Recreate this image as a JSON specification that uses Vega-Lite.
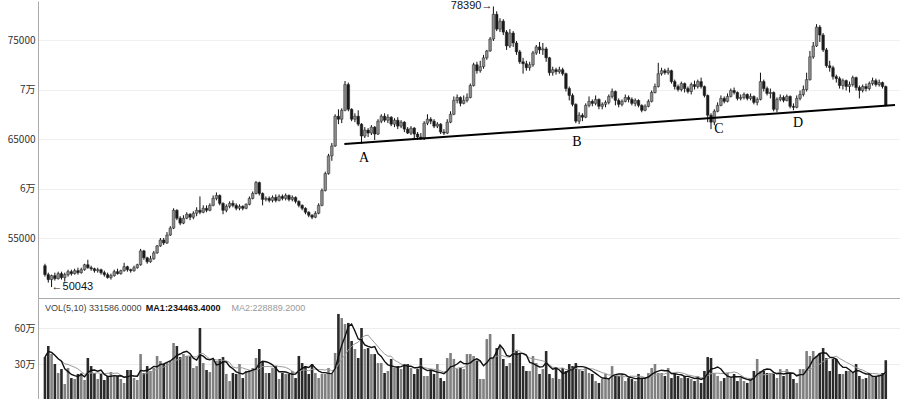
{
"$schema": "https://vega.github.io/schema/vega-lite/v6.json",
"padding": 0,
"spacing": 0,
"background": "white",
"config": {"view": {"stroke": null}, "axis": {"labelFont": "Noto Sans CJK SC", "labelFontSize": 10, "labelColor": "#333333"}},
"datasets": {"k": [
{"i":0,"o":52200,"h":52400,"l":51100,"c":51300,"v":358000},
{"i":1,"o":51300,"h":51500,"l":50500,"c":50800,"v":450000},
{"i":2,"o":50800,"h":51300,"l":50043,"c":51200,"v":383000},
{"i":3,"o":51200,"h":51500,"l":50700,"c":50900,"v":300000},
{"i":4,"o":50900,"h":51600,"l":50800,"c":51400,"v":225000},
{"i":5,"o":51400,"h":51600,"l":50800,"c":51000,"v":258000},
{"i":6,"o":51000,"h":51500,"l":50600,"c":51300,"v":133000},
{"i":7,"o":51300,"h":51800,"l":51100,"c":51600,"v":267000},
{"i":8,"o":51600,"h":51800,"l":51200,"c":51400,"v":183000},
{"i":9,"o":51400,"h":51900,"l":51300,"c":51700,"v":175000},
{"i":10,"o":51700,"h":52000,"l":51300,"c":51500,"v":217000},
{"i":11,"o":51500,"h":52000,"l":51400,"c":51800,"v":225000},
{"i":12,"o":51800,"h":52400,"l":51700,"c":52300,"v":167000},
{"i":13,"o":52300,"h":52800,"l":51900,"c":52000,"v":350000},
{"i":14,"o":52000,"h":52200,"l":51700,"c":51900,"v":283000},
{"i":15,"o":51900,"h":52000,"l":51500,"c":51700,"v":225000},
{"i":16,"o":51700,"h":52000,"l":51500,"c":51800,"v":175000},
{"i":17,"o":51800,"h":51900,"l":51300,"c":51500,"v":217000},
{"i":18,"o":51500,"h":51700,"l":51100,"c":51300,"v":167000},
{"i":19,"o":51300,"h":51500,"l":50900,"c":51000,"v":200000},
{"i":20,"o":51000,"h":51400,"l":50800,"c":51200,"v":233000},
{"i":21,"o":51200,"h":51800,"l":51100,"c":51600,"v":200000},
{"i":22,"o":51600,"h":51900,"l":51300,"c":51400,"v":200000},
{"i":23,"o":51400,"h":51800,"l":51300,"c":51700,"v":175000},
{"i":24,"o":51700,"h":52500,"l":51600,"c":52100,"v":142000},
{"i":25,"o":52100,"h":52200,"l":51600,"c":51800,"v":250000},
{"i":26,"o":51800,"h":51900,"l":51500,"c":51700,"v":250000},
{"i":27,"o":51700,"h":52200,"l":51600,"c":52000,"v":183000},
{"i":28,"o":52000,"h":52400,"l":51900,"c":52300,"v":167000},
{"i":29,"o":52300,"h":53900,"l":52200,"c":53700,"v":383000},
{"i":30,"o":53700,"h":53800,"l":52800,"c":53000,"v":225000},
{"i":31,"o":53000,"h":53100,"l":52400,"c":52600,"v":283000},
{"i":32,"o":52600,"h":53200,"l":52500,"c":52900,"v":242000},
{"i":33,"o":52900,"h":53700,"l":52800,"c":53500,"v":267000},
{"i":34,"o":53500,"h":54300,"l":53400,"c":54200,"v":367000},
{"i":35,"o":54200,"h":55000,"l":54100,"c":54800,"v":325000},
{"i":36,"o":54800,"h":55000,"l":54300,"c":54500,"v":300000},
{"i":37,"o":54500,"h":55600,"l":54400,"c":55300,"v":308000},
{"i":38,"o":55300,"h":56200,"l":55200,"c":56000,"v":325000},
{"i":39,"o":56000,"h":58000,"l":55900,"c":57800,"v":475000},
{"i":40,"o":57800,"h":57900,"l":56800,"c":57000,"v":450000},
{"i":41,"o":57000,"h":57200,"l":56300,"c":56500,"v":358000},
{"i":42,"o":56500,"h":57300,"l":56400,"c":57000,"v":383000},
{"i":43,"o":57000,"h":57600,"l":56900,"c":57400,"v":367000},
{"i":44,"o":57400,"h":57500,"l":56800,"c":57100,"v":367000},
{"i":45,"o":57100,"h":57700,"l":56900,"c":57500,"v":267000},
{"i":46,"o":57500,"h":58100,"l":57200,"c":57800,"v":283000},
{"i":47,"o":57800,"h":59200,"l":57400,"c":57600,"v":600000},
{"i":48,"o":57600,"h":58300,"l":57500,"c":58000,"v":308000},
{"i":49,"o":58000,"h":58300,"l":57600,"c":57800,"v":250000},
{"i":50,"o":57800,"h":58500,"l":57700,"c":58300,"v":233000},
{"i":51,"o":58300,"h":59300,"l":58200,"c":59000,"v":342000},
{"i":52,"o":59000,"h":59600,"l":58800,"c":59300,"v":325000},
{"i":53,"o":59300,"h":59400,"l":58300,"c":58500,"v":342000},
{"i":54,"o":58500,"h":58600,"l":57400,"c":57800,"v":358000},
{"i":55,"o":57800,"h":58400,"l":57600,"c":58200,"v":217000},
{"i":56,"o":58200,"h":58700,"l":58000,"c":58500,"v":158000},
{"i":57,"o":58500,"h":58800,"l":58100,"c":58300,"v":225000},
{"i":58,"o":58300,"h":58500,"l":57800,"c":58000,"v":217000},
{"i":59,"o":58000,"h":58400,"l":57800,"c":58200,"v":300000},
{"i":60,"o":58200,"h":58300,"l":57800,"c":58000,"v":183000},
{"i":61,"o":58000,"h":58500,"l":57900,"c":58400,"v":242000},
{"i":62,"o":58400,"h":59200,"l":58300,"c":59000,"v":250000},
{"i":63,"o":59000,"h":59700,"l":58900,"c":59500,"v":267000},
{"i":64,"o":59500,"h":60760,"l":59400,"c":60600,"v":350000},
{"i":65,"o":60600,"h":60700,"l":59300,"c":59500,"v":425000},
{"i":66,"o":59500,"h":59600,"l":58300,"c":58900,"v":325000},
{"i":67,"o":58900,"h":59200,"l":58700,"c":59000,"v":225000},
{"i":68,"o":59000,"h":59200,"l":58600,"c":58800,"v":225000},
{"i":69,"o":58800,"h":59300,"l":58600,"c":59100,"v":267000},
{"i":70,"o":59100,"h":59400,"l":58600,"c":58800,"v":283000},
{"i":71,"o":58800,"h":59400,"l":58700,"c":59200,"v":175000},
{"i":72,"o":59200,"h":59400,"l":58800,"c":59000,"v":225000},
{"i":73,"o":59000,"h":59500,"l":58800,"c":59300,"v":217000},
{"i":74,"o":59300,"h":59400,"l":58700,"c":58900,"v":217000},
{"i":75,"o":58900,"h":59300,"l":58700,"c":59100,"v":242000},
{"i":76,"o":59100,"h":59200,"l":58500,"c":58700,"v":183000},
{"i":77,"o":58700,"h":58800,"l":58100,"c":58300,"v":367000},
{"i":78,"o":58300,"h":58400,"l":57800,"c":58000,"v":308000},
{"i":79,"o":58000,"h":58100,"l":57400,"c":57600,"v":283000},
{"i":80,"o":57600,"h":57700,"l":57100,"c":57300,"v":217000},
{"i":81,"o":57300,"h":57400,"l":56900,"c":57100,"v":300000},
{"i":82,"o":57100,"h":57700,"l":57000,"c":57500,"v":225000},
{"i":83,"o":57500,"h":58500,"l":57400,"c":58300,"v":183000},
{"i":84,"o":58300,"h":60000,"l":58200,"c":59800,"v":217000},
{"i":85,"o":59800,"h":61700,"l":59700,"c":61500,"v":217000},
{"i":86,"o":61500,"h":63500,"l":61400,"c":63300,"v":267000},
{"i":87,"o":63300,"h":64600,"l":62800,"c":64300,"v":217000},
{"i":88,"o":64300,"h":67500,"l":64200,"c":67300,"v":392000},
{"i":89,"o":67300,"h":68000,"l":66500,"c":67000,"v":717000},
{"i":90,"o":67000,"h":68100,"l":66600,"c":67900,"v":683000},
{"i":91,"o":67900,"h":70860,"l":67800,"c":70500,"v":633000},
{"i":92,"o":70500,"h":70700,"l":67800,"c":68000,"v":642000},
{"i":93,"o":68000,"h":68100,"l":66800,"c":67000,"v":492000},
{"i":94,"o":67000,"h":67600,"l":66700,"c":67300,"v":425000},
{"i":95,"o":67300,"h":67900,"l":66300,"c":66500,"v":350000},
{"i":96,"o":66500,"h":66600,"l":64500,"c":65300,"v":600000},
{"i":97,"o":65300,"h":66200,"l":65100,"c":65900,"v":425000},
{"i":98,"o":65900,"h":66100,"l":65200,"c":65600,"v":433000},
{"i":99,"o":65600,"h":66400,"l":65400,"c":66200,"v":383000},
{"i":100,"o":66200,"h":66300,"l":64900,"c":65500,"v":383000},
{"i":101,"o":65500,"h":67000,"l":65400,"c":66800,"v":308000},
{"i":102,"o":66800,"h":67500,"l":66600,"c":67300,"v":308000},
{"i":103,"o":67300,"h":67600,"l":66700,"c":66900,"v":225000},
{"i":104,"o":66900,"h":67500,"l":66600,"c":67200,"v":242000},
{"i":105,"o":67200,"h":67300,"l":66300,"c":66500,"v":342000},
{"i":106,"o":66500,"h":67100,"l":66200,"c":66900,"v":267000},
{"i":107,"o":66900,"h":67200,"l":66000,"c":66300,"v":283000},
{"i":108,"o":66300,"h":66900,"l":66100,"c":66700,"v":258000},
{"i":109,"o":66700,"h":66800,"l":65700,"c":66000,"v":300000},
{"i":110,"o":66000,"h":66200,"l":65500,"c":65600,"v":300000},
{"i":111,"o":65600,"h":66300,"l":65400,"c":66100,"v":267000},
{"i":112,"o":66100,"h":66200,"l":65000,"c":65500,"v":217000},
{"i":113,"o":65500,"h":65700,"l":64900,"c":65200,"v":258000},
{"i":114,"o":65200,"h":65600,"l":64900,"c":65000,"v":350000},
{"i":115,"o":65000,"h":66800,"l":64900,"c":66600,"v":200000},
{"i":116,"o":66600,"h":67500,"l":66400,"c":67000,"v":200000},
{"i":117,"o":67000,"h":67200,"l":66500,"c":66800,"v":242000},
{"i":118,"o":66800,"h":67000,"l":66100,"c":66300,"v":217000},
{"i":119,"o":66300,"h":66700,"l":66100,"c":66500,"v":300000},
{"i":120,"o":66500,"h":66600,"l":65500,"c":65700,"v":183000},
{"i":121,"o":65700,"h":66000,"l":65400,"c":65600,"v":158000},
{"i":122,"o":65600,"h":67000,"l":65500,"c":66700,"v":350000},
{"i":123,"o":66700,"h":67800,"l":66600,"c":67500,"v":392000},
{"i":124,"o":67500,"h":69300,"l":67400,"c":68900,"v":342000},
{"i":125,"o":68900,"h":69500,"l":68600,"c":69200,"v":258000},
{"i":126,"o":69200,"h":69300,"l":68300,"c":68600,"v":267000},
{"i":127,"o":68600,"h":69400,"l":68500,"c":68900,"v":258000},
{"i":128,"o":68900,"h":69600,"l":68700,"c":69200,"v":383000},
{"i":129,"o":69200,"h":70600,"l":69100,"c":70400,"v":383000},
{"i":130,"o":70400,"h":72700,"l":70300,"c":72500,"v":367000},
{"i":131,"o":72500,"h":72800,"l":71600,"c":71900,"v":325000},
{"i":132,"o":71900,"h":72900,"l":71700,"c":72300,"v":175000},
{"i":133,"o":72300,"h":73500,"l":72100,"c":73200,"v":175000},
{"i":134,"o":73200,"h":74000,"l":73000,"c":73900,"v":508000},
{"i":135,"o":73900,"h":75300,"l":73800,"c":75100,"v":550000},
{"i":136,"o":75100,"h":78390,"l":74900,"c":77600,"v":350000},
{"i":137,"o":77600,"h":77900,"l":75900,"c":76100,"v":433000},
{"i":138,"o":76100,"h":77200,"l":75800,"c":76900,"v":450000},
{"i":139,"o":76900,"h":77100,"l":75500,"c":75800,"v":342000},
{"i":140,"o":75800,"h":76000,"l":74000,"c":74400,"v":283000},
{"i":141,"o":74400,"h":76100,"l":74200,"c":75700,"v":308000},
{"i":142,"o":75700,"h":75900,"l":74300,"c":74700,"v":550000},
{"i":143,"o":74700,"h":74900,"l":73500,"c":73800,"v":408000},
{"i":144,"o":73800,"h":74000,"l":72600,"c":72800,"v":392000},
{"i":145,"o":72800,"h":73200,"l":71600,"c":72600,"v":283000},
{"i":146,"o":72600,"h":72900,"l":71900,"c":72200,"v":242000},
{"i":147,"o":72200,"h":72800,"l":71900,"c":72500,"v":242000},
{"i":148,"o":72500,"h":73900,"l":72300,"c":73700,"v":367000},
{"i":149,"o":73700,"h":74500,"l":73500,"c":74300,"v":308000},
{"i":150,"o":74300,"h":74800,"l":73600,"c":74000,"v":217000},
{"i":151,"o":74000,"h":74700,"l":73500,"c":74100,"v":258000},
{"i":152,"o":74100,"h":74300,"l":72800,"c":73200,"v":408000},
{"i":153,"o":73200,"h":73300,"l":71400,"c":71700,"v":217000},
{"i":154,"o":71700,"h":72300,"l":71400,"c":72000,"v":183000},
{"i":155,"o":72000,"h":72200,"l":71500,"c":71800,"v":267000},
{"i":156,"o":71800,"h":72300,"l":71600,"c":72000,"v":175000},
{"i":157,"o":72000,"h":72200,"l":71400,"c":71600,"v":267000},
{"i":158,"o":71600,"h":71700,"l":69800,"c":70100,"v":242000},
{"i":159,"o":70100,"h":70300,"l":68900,"c":69400,"v":300000},
{"i":160,"o":69400,"h":69600,"l":68300,"c":68500,"v":283000},
{"i":161,"o":68500,"h":68600,"l":66600,"c":66800,"v":308000},
{"i":162,"o":66800,"h":67700,"l":66519,"c":67400,"v":258000},
{"i":163,"o":67400,"h":67600,"l":66800,"c":67200,"v":242000},
{"i":164,"o":67200,"h":68600,"l":67100,"c":68400,"v":267000},
{"i":165,"o":68400,"h":69300,"l":68200,"c":68800,"v":225000},
{"i":166,"o":68800,"h":69000,"l":68300,"c":68600,"v":217000},
{"i":167,"o":68600,"h":69400,"l":68400,"c":69000,"v":158000},
{"i":168,"o":69000,"h":69100,"l":68000,"c":68300,"v":142000},
{"i":169,"o":68300,"h":68700,"l":68000,"c":68500,"v":175000},
{"i":170,"o":68500,"h":68900,"l":68200,"c":68700,"v":217000},
{"i":171,"o":68700,"h":69500,"l":68500,"c":69300,"v":183000},
{"i":172,"o":69300,"h":70100,"l":69100,"c":69800,"v":283000},
{"i":173,"o":69800,"h":69900,"l":68400,"c":68900,"v":200000},
{"i":174,"o":68900,"h":69100,"l":68200,"c":68500,"v":200000},
{"i":175,"o":68500,"h":69000,"l":68300,"c":68800,"v":217000},
{"i":176,"o":68800,"h":69500,"l":68700,"c":69200,"v":158000},
{"i":177,"o":69200,"h":69400,"l":68700,"c":69000,"v":183000},
{"i":178,"o":69000,"h":69200,"l":68400,"c":68600,"v":175000},
{"i":179,"o":68600,"h":69100,"l":68300,"c":68900,"v":158000},
{"i":180,"o":68900,"h":69000,"l":68200,"c":68400,"v":217000},
{"i":181,"o":68400,"h":68500,"l":67700,"c":67900,"v":175000},
{"i":182,"o":67900,"h":68500,"l":67800,"c":68300,"v":183000},
{"i":183,"o":68300,"h":69000,"l":68200,"c":68800,"v":225000},
{"i":184,"o":68800,"h":69900,"l":68700,"c":69700,"v":267000},
{"i":185,"o":69700,"h":70600,"l":69600,"c":70300,"v":300000},
{"i":186,"o":70300,"h":72700,"l":70200,"c":71600,"v":225000},
{"i":187,"o":71600,"h":72200,"l":71400,"c":71900,"v":225000},
{"i":188,"o":71900,"h":72100,"l":71500,"c":71700,"v":200000},
{"i":189,"o":71700,"h":72200,"l":71500,"c":71900,"v":267000},
{"i":190,"o":71900,"h":72000,"l":70600,"c":70800,"v":183000},
{"i":191,"o":70800,"h":71000,"l":70000,"c":70300,"v":217000},
{"i":192,"o":70300,"h":70500,"l":69800,"c":70000,"v":200000},
{"i":193,"o":70000,"h":70800,"l":69800,"c":70600,"v":183000},
{"i":194,"o":70600,"h":70700,"l":69700,"c":70100,"v":200000},
{"i":195,"o":70100,"h":70300,"l":69600,"c":69800,"v":183000},
{"i":196,"o":69800,"h":70700,"l":69500,"c":70500,"v":175000},
{"i":197,"o":70500,"h":70900,"l":70000,"c":70300,"v":158000},
{"i":198,"o":70300,"h":71000,"l":70100,"c":70800,"v":200000},
{"i":199,"o":70800,"h":71200,"l":70100,"c":70300,"v":142000},
{"i":200,"o":70300,"h":70400,"l":69200,"c":69400,"v":242000},
{"i":201,"o":69400,"h":69500,"l":66700,"c":67400,"v":358000},
{"i":202,"o":67400,"h":67600,"l":66000,"c":66700,"v":350000},
{"i":203,"o":66700,"h":68000,"l":66400,"c":67800,"v":225000},
{"i":204,"o":67800,"h":68700,"l":67700,"c":68400,"v":200000},
{"i":205,"o":68400,"h":69400,"l":68300,"c":69100,"v":158000},
{"i":206,"o":69100,"h":69300,"l":68600,"c":68800,"v":183000},
{"i":207,"o":68800,"h":69600,"l":68700,"c":69300,"v":225000},
{"i":208,"o":69300,"h":70100,"l":69200,"c":69900,"v":183000},
{"i":209,"o":69900,"h":70200,"l":69500,"c":69700,"v":217000},
{"i":210,"o":69700,"h":69800,"l":68900,"c":69100,"v":158000},
{"i":211,"o":69100,"h":69500,"l":68900,"c":69200,"v":183000},
{"i":212,"o":69200,"h":69700,"l":69000,"c":69500,"v":158000},
{"i":213,"o":69500,"h":69600,"l":68900,"c":69100,"v":142000},
{"i":214,"o":69100,"h":69600,"l":68900,"c":69300,"v":183000},
{"i":215,"o":69300,"h":69400,"l":68500,"c":68700,"v":242000},
{"i":216,"o":68700,"h":69200,"l":68400,"c":69000,"v":342000},
{"i":217,"o":69000,"h":71700,"l":68900,"c":70800,"v":242000},
{"i":218,"o":70800,"h":71000,"l":69800,"c":70100,"v":242000},
{"i":219,"o":70100,"h":70300,"l":69400,"c":69600,"v":225000},
{"i":220,"o":69600,"h":70100,"l":69100,"c":69700,"v":225000},
{"i":221,"o":69700,"h":69800,"l":67800,"c":68000,"v":217000},
{"i":222,"o":68000,"h":69200,"l":67700,"c":69000,"v":183000},
{"i":223,"o":69000,"h":69500,"l":68800,"c":69200,"v":258000},
{"i":224,"o":69200,"h":69400,"l":68700,"c":68900,"v":200000},
{"i":225,"o":68900,"h":69500,"l":68800,"c":69300,"v":258000},
{"i":226,"o":69300,"h":69400,"l":68100,"c":68300,"v":225000},
{"i":227,"o":68300,"h":68600,"l":67900,"c":68200,"v":175000},
{"i":228,"o":68200,"h":69400,"l":68100,"c":69100,"v":142000},
{"i":229,"o":69100,"h":69900,"l":68900,"c":69500,"v":258000},
{"i":230,"o":69500,"h":70400,"l":69300,"c":70000,"v":258000},
{"i":231,"o":70000,"h":71700,"l":69800,"c":71000,"v":408000},
{"i":232,"o":71000,"h":73900,"l":70900,"c":73300,"v":367000},
{"i":233,"o":73300,"h":74800,"l":73100,"c":74400,"v":408000},
{"i":234,"o":74400,"h":76600,"l":74300,"c":76300,"v":367000},
{"i":235,"o":76300,"h":76500,"l":74800,"c":75500,"v":392000},
{"i":236,"o":75500,"h":75700,"l":73800,"c":74000,"v":433000},
{"i":237,"o":74000,"h":74200,"l":72200,"c":72400,"v":350000},
{"i":238,"o":72400,"h":72900,"l":71800,"c":72200,"v":242000},
{"i":239,"o":72200,"h":72400,"l":71000,"c":71300,"v":342000},
{"i":240,"o":71300,"h":71500,"l":70700,"c":71100,"v":342000},
{"i":241,"o":71100,"h":71300,"l":70100,"c":70400,"v":217000},
{"i":242,"o":70400,"h":71100,"l":70000,"c":70900,"v":217000},
{"i":243,"o":70900,"h":71000,"l":69900,"c":70300,"v":242000},
{"i":244,"o":70300,"h":70800,"l":69700,"c":70500,"v":242000},
{"i":245,"o":70500,"h":71400,"l":70300,"c":71200,"v":225000},
{"i":246,"o":71200,"h":71300,"l":69900,"c":70200,"v":300000},
{"i":247,"o":70200,"h":70400,"l":69100,"c":69900,"v":200000},
{"i":248,"o":69900,"h":70500,"l":69700,"c":70300,"v":175000},
{"i":249,"o":70300,"h":70600,"l":69800,"c":70100,"v":183000},
{"i":250,"o":70100,"h":70800,"l":69900,"c":70600,"v":225000},
{"i":251,"o":70600,"h":71200,"l":70400,"c":70900,"v":200000},
{"i":252,"o":70900,"h":71100,"l":70300,"c":70500,"v":200000},
{"i":253,"o":70500,"h":71000,"l":70300,"c":70700,"v":200000},
{"i":254,"o":70700,"h":70800,"l":70100,"c":70300,"v":225000},
{"i":255,"o":70300,"h":70400,"l":68300,"c":68400,"v":331586}
]},
"vconcat": [
{
"width": 862,
"height": 297,
"layer": [
{
"data": {"name": "k"},
"mark": {"type": "rule", "color": "#111111", "strokeWidth": 1},
"encoding": {
"x": {"field": "i", "type": "quantitative", "scale": {"domain": [-0.6, 257.8], "nice": false, "zero": false}, "axis": {"labels": false, "ticks": false, "grid": false, "title": null, "domainColor": "#aaaaaa", "minExtent": 0, "maxExtent": 0}},
"y": {"field": "l", "type": "quantitative", "scale": {"domain": [48940, 78940], "nice": false, "zero": false}, "axis": {"values": [55000, 60000, 65000, 70000, 75000], "labelExpr": "datum.value % 10000 == 0 ? (datum.value / 10000) + '万' : '' + datum.value", "title": null, "ticks": false, "domainColor": "#aaaaaa", "gridColor": "#f0f0f0", "grid": true, "minExtent": 38, "maxExtent": 38, "labelPadding": 3}},
"y2": {"field": "h"}
}
},
{
"data": {"name": "k"},
"mark": {"type": "bar", "width": 2.6, "stroke": "#222222", "strokeWidth": 0.5},
"encoding": {
"x": {"field": "i", "type": "quantitative", "scale": {"domain": [-0.6, 257.8], "nice": false, "zero": false}},
"y": {"field": "o", "type": "quantitative", "scale": {"domain": [48940, 78940], "nice": false, "zero": false}},
"y2": {"field": "c"},
"color": {"condition": {"test": "datum.c < datum.o", "value": "#1a1a1a"}, "value": "#8c8c8c"}
}
},
{
"data": {"values": [{"a": 90.8, "b": 257.8, "pa": 64496, "pb": 68435}]},
"mark": {"type": "rule", "color": "#000000", "strokeWidth": 2},
"encoding": {
"x": {"field": "a", "type": "quantitative", "scale": {"domain": [-0.6, 257.8], "nice": false, "zero": false}},
"x2": {"field": "b"},
"y": {"field": "pa", "type": "quantitative", "scale": {"domain": [48940, 78940], "nice": false, "zero": false}},
"y2": {"field": "pb"}
}
},
{
"data": {"values": [{"t": "A", "i": 96.8, "p": 63082}, {"t": "B", "i": 161.3, "p": 64698}, {"t": "C", "i": 204.4, "p": 66011}, {"t": "D", "i": 228.4, "p": 66617}]},
"mark": {"type": "text", "font": "Liberation Serif", "fontSize": 14, "color": "#000000", "align": "center", "baseline": "middle"},
"encoding": {
"x": {"field": "i", "type": "quantitative", "scale": {"domain": [-0.6, 257.8], "nice": false, "zero": false}},
"y": {"field": "p", "type": "quantitative", "scale": {"domain": [48940, 78940], "nice": false, "zero": false}},
"text": {"field": "t"}
}
},
{
"data": {"values": [{"t": "78390→", "i": 136, "p": 78390}]},
"mark": {"type": "text", "font": "Liberation Sans", "fontSize": 11, "color": "#111111", "align": "right", "baseline": "middle", "dx": -1},
"encoding": {
"x": {"field": "i", "type": "quantitative", "scale": {"domain": [-0.6, 257.8], "nice": false, "zero": false}},
"y": {"field": "p", "type": "quantitative", "scale": {"domain": [48940, 78940], "nice": false, "zero": false}},
"text": {"field": "t"}
}
},
{
"data": {"values": [{"t": "←50043", "i": 2, "p": 50043}]},
"mark": {"type": "text", "font": "Liberation Sans", "fontSize": 11, "color": "#111111", "align": "left", "baseline": "middle", "dx": 0},
"encoding": {
"x": {"field": "i", "type": "quantitative", "scale": {"domain": [-0.6, 257.8], "nice": false, "zero": false}},
"y": {"field": "p", "type": "quantitative", "scale": {"domain": [48940, 78940], "nice": false, "zero": false}},
"text": {"field": "t"}
}
}
]
},
{
"width": 862,
"height": 102,
"layer": [
{
"data": {"name": "k"},
"mark": {"type": "bar", "width": 2.6},
"encoding": {
"x": {"field": "i", "type": "quantitative", "scale": {"domain": [-0.6, 257.8], "nice": false, "zero": false}, "axis": null},
"y": {"field": "v", "type": "quantitative", "scale": {"domain": [0, 850000], "nice": false}, "axis": {"values": [300000, 600000], "labelExpr": "(datum.value / 10000) + '万'", "title": null, "ticks": false, "domainColor": "#aaaaaa", "gridColor": "#eeeeee", "grid": true, "minExtent": 38, "maxExtent": 38, "labelPadding": 3}},
"color": {"condition": {"test": "datum.c < datum.o", "value": "#2a2a2a"}, "value": "#808080"}
}
},
{
"data": {"name": "k"},
"transform": [{"window": [{"op": "mean", "field": "v", "as": "m10"}], "frame": [-9, 0], "sort": [{"field": "i"}]}],
"mark": {"type": "line", "color": "#9a9a9a", "strokeWidth": 1},
"encoding": {
"x": {"field": "i", "type": "quantitative", "scale": {"domain": [-0.6, 257.8], "nice": false, "zero": false}},
"y": {"field": "m10", "type": "quantitative", "scale": {"domain": [0, 850000], "nice": false}}
}
},
{
"data": {"name": "k"},
"transform": [{"window": [{"op": "mean", "field": "v", "as": "m5"}], "frame": [-4, 0], "sort": [{"field": "i"}]}],
"mark": {"type": "line", "color": "#111111", "strokeWidth": 1.4},
"encoding": {
"x": {"field": "i", "type": "quantitative", "scale": {"domain": [-0.6, 257.8], "nice": false, "zero": false}},
"y": {"field": "m5", "type": "quantitative", "scale": {"domain": [0, 850000], "nice": false}}
}
},
{
"data": {"values": [{"t": "VOL(5,10) 331586.0000", "i": 0, "p": 766000}]},
"mark": {"type": "text", "font": "Liberation Sans", "fontSize": 9, "color": "#444444", "align": "left", "baseline": "middle"},
"encoding": {
"x": {"field": "i", "type": "quantitative", "scale": {"domain": [-0.6, 257.8], "nice": false, "zero": false}},
"y": {"field": "p", "type": "quantitative", "scale": {"domain": [0, 850000], "nice": false}},
"text": {"field": "t"}
}
},
{
"data": {"values": [{"t": "MA1:234463.4000", "i": 30.6, "p": 766000}]},
"mark": {"type": "text", "font": "Liberation Sans", "fontSize": 9, "fontWeight": "bold", "color": "#111111", "align": "left", "baseline": "middle"},
"encoding": {
"x": {"field": "i", "type": "quantitative", "scale": {"domain": [-0.6, 257.8], "nice": false, "zero": false}},
"y": {"field": "p", "type": "quantitative", "scale": {"domain": [0, 850000], "nice": false}},
"text": {"field": "t"}
}
},
{
"data": {"values": [{"t": "MA2:228889.2000", "i": 56.6, "p": 766000}]},
"mark": {"type": "text", "font": "Liberation Sans", "fontSize": 9, "color": "#999999", "align": "left", "baseline": "middle"},
"encoding": {
"x": {"field": "i", "type": "quantitative", "scale": {"domain": [-0.6, 257.8], "nice": false, "zero": false}},
"y": {"field": "p", "type": "quantitative", "scale": {"domain": [0, 850000], "nice": false}},
"text": {"field": "t"}
}
}
]
}
]
}
